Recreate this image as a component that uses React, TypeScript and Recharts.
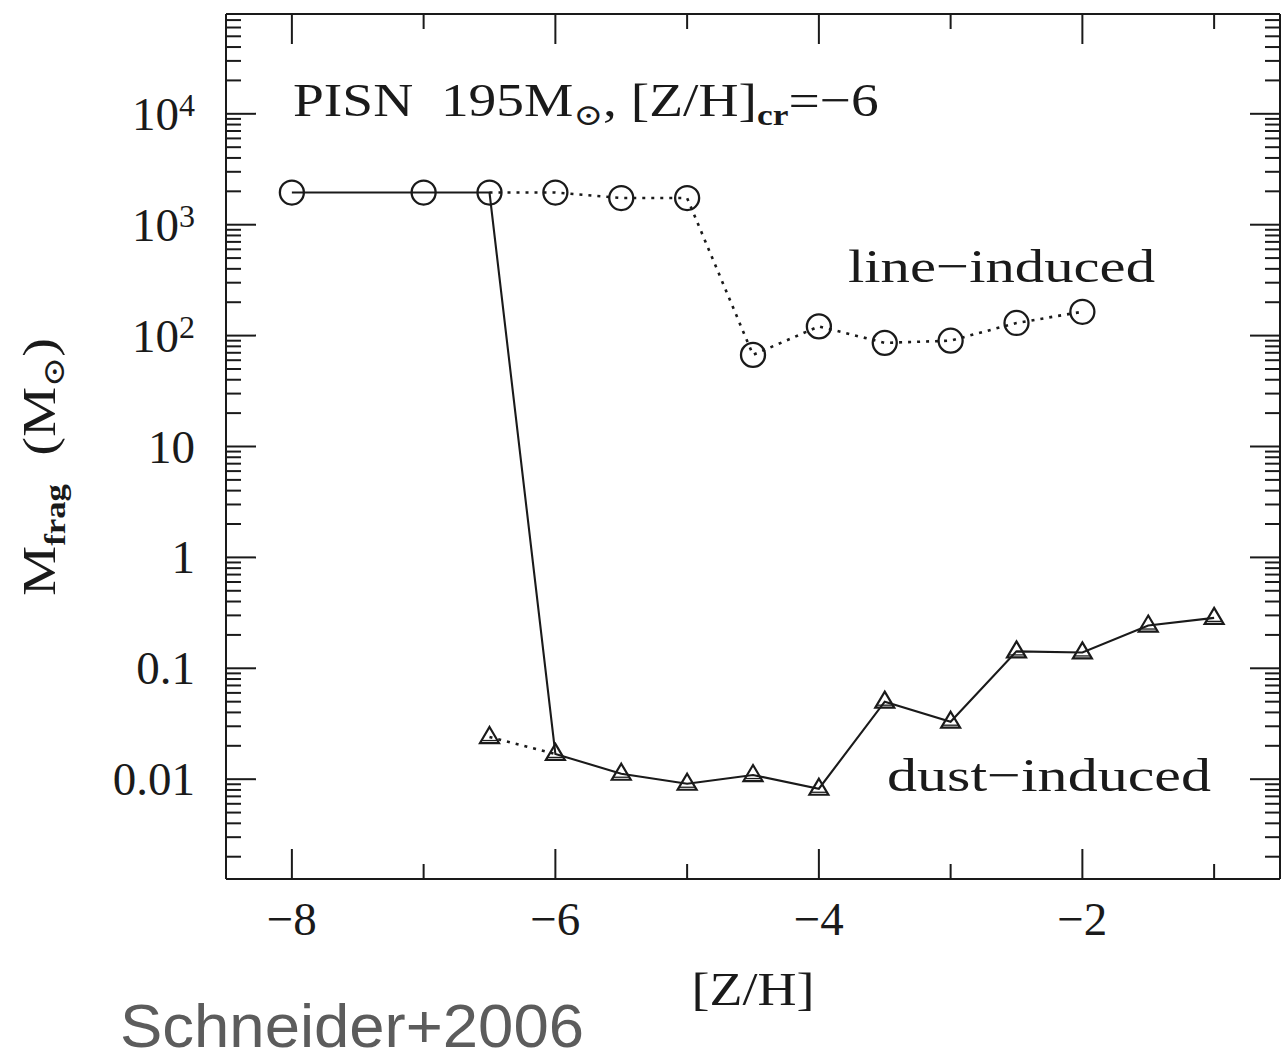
import React from "react";
import { LineChart, Line, XAxis, YAxis } from "recharts";

// [Z/H] sampling and fragment masses (Msun)
const zLine = [-8, -7, -6.5, -6, -5.5, -5, -4.5, -4, -3.5, -3, -2.5, -2];
const mLine = [1950, 1950, 1950, 1950, 1740, 1740, 67, 121, 86, 90, 130, 164];

const zDust = [-6.5, -6, -5.5, -5, -4.5, -4, -3.5, -3, -2.5, -2, -1.5, -1];
const mDust = [0.024, 0.0169, 0.0112, 0.0091, 0.0109, 0.0082, 0.05, 0.033, 0.142, 0.139, 0.243, 0.285];

// critical metallicity where the cooling switches over
const Z_CR = -6.5;

const zTicks = [-8, -7, -6, -5, -4, -3, -2, -1];
const zMajor = [-8, -6, -4, -2];
const zLabels = ["−8", "−6", "−4", "−2"];

const mMajor = [0.01, 0.1, 1, 10, 100, 1000, 10000];
const mLabels: [string, string][] = [
  ["0.01", ""],
  ["0.1", ""],
  ["1", ""],
  ["10", ""],
  ["10", "2"],
  ["10", "3"],
  ["10", "4"],
];

const M_MIN = Math.pow(10, -2.9);
const M_MAX = Math.pow(10, 4.9);

// minor ticks 2..9 x 10^k inside the domain
const mMinor: number[] = [];
for (let k = -3; k <= 4; k++) {
  for (let d = 2; d <= 9; d++) {
    const v = d * Math.pow(10, k);
    if (v > M_MIN && v < M_MAX) mMinor.push(Number(v.toPrecision(3)));
  }
}
const mTicks = [...mMajor, ...mMinor].sort((a, b) => a - b);

const lineRows = zLine.map((z, i) => ({ z, m: mLine[i] }));
const dustRows = zDust.map((z, i) => ({ z, m: mDust[i] }));

// solid track: line cooling below Z_cr, then dust cooling above it
const solidRows = [
  ...lineRows.filter((r) => r.z <= Z_CR),
  ...dustRows.filter((r) => r.z > Z_CR),
];
const lineDotted = lineRows.filter((r) => r.z >= Z_CR);
const dustDotted = dustRows.filter((r) => r.z <= Z_CR + 0.5);

const INK = "#1a1a1a";
const SERIF = "'Liberation Serif', 'DejaVu Serif', serif";
const MAJOR_LEN = 30;
const MINOR_LEN = 15;

const isMajorM = (v: number) => mMajor.some((m) => Math.abs(m - v) / m < 1e-6);

const BottomTick = (props: any) => {
  const { x, y, payload } = props;
  const i = zMajor.indexOf(payload.value);
  const len = i >= 0 ? MAJOR_LEN : MINOR_LEN;
  return (
    <g>
      <line x1={x} y1={y} x2={x} y2={y - len} stroke={INK} strokeWidth={2} />
      {i >= 0 && (
        <text x={x} y={y + 56} textAnchor="middle" fontFamily={SERIF} fontSize={47} fill={INK}>
          {zLabels[i]}
        </text>
      )}
    </g>
  );
};

const TopTick = (props: any) => {
  const { x, y, payload } = props;
  const len = zMajor.includes(payload.value) ? MAJOR_LEN : MINOR_LEN;
  return <line x1={x} y1={y} x2={x} y2={y + len} stroke={INK} strokeWidth={2} />;
};

const LeftTick = (props: any) => {
  const { x, y, payload } = props;
  const i = mMajor.findIndex((m) => Math.abs(m - payload.value) / m < 1e-6);
  const len = i >= 0 ? MAJOR_LEN : MINOR_LEN;
  return (
    <g>
      <line x1={x} y1={y} x2={x + len} y2={y} stroke={INK} strokeWidth={2} />
      {i >= 0 && (
        <text x={x - 31} y={y + 16} textAnchor="end" fontFamily={SERIF} fontSize={47} fill={INK}>
          <tspan>{mLabels[i][0]}</tspan>
          {mLabels[i][1] && (
            <tspan dy={-14} fontSize={32}>
              {mLabels[i][1]}
            </tspan>
          )}
        </text>
      )}
    </g>
  );
};

const RightTick = (props: any) => {
  const { x, y, payload } = props;
  const len = isMajorM(payload.value) ? MAJOR_LEN : MINOR_LEN;
  return <line x1={x} y1={y} x2={x - len} y2={y} stroke={INK} strokeWidth={2} />;
};

const OpenCircle = (props: any) => {
  const { cx, cy, index } = props;
  return <circle key={`c${index}`} cx={cx} cy={cy} r={12} fill="none" stroke={INK} strokeWidth={2.3} />;
};

const OpenTriangle = (props: any) => {
  const { cx, cy, index } = props;
  const d = `M${cx} ${cy - 10} L${cx + 9.5} ${cy + 6} L${cx - 9.5} ${cy + 6} Z`;
  return (
    <g key={`t${index}`}>
      <path d={d} fill="none" stroke={INK} strokeWidth={2.2} />
      <line x1={cx - 7.5} y1={cy + 3.5} x2={cx + 7.5} y2={cy + 3.5} stroke={INK} strokeWidth={1.3} />
    </g>
  );
};

const axisLine = { stroke: INK, strokeWidth: 2 };

export default function App() {
  return (
    <div style={{ position: "absolute", left: 0, top: 0, width: 1281, height: 1059, background: "#fff" }}>
      <LineChart width={1281} height={1059} margin={{ top: 13, right: 0, bottom: 50, left: 0 }}>
        <XAxis
          xAxisId="b"
          type="number"
          dataKey="z"
          domain={[-8.5, -0.5]}
          allowDataOverflow
          ticks={zTicks}
          interval={0}
          tickSize={0}
          tickMargin={0}
          tick={BottomTick}
          axisLine={axisLine}
          height={130}
        />
        <XAxis
          xAxisId="t"
          orientation="top"
          type="number"
          dataKey="z"
          domain={[-8.5, -0.5]}
          allowDataOverflow
          ticks={zTicks}
          interval={0}
          tickSize={0}
          tickMargin={0}
          tick={TopTick}
          axisLine={axisLine}
          height={1}
        />
        <YAxis
          yAxisId="l"
          type="number"
          scale="log"
          domain={[M_MIN, M_MAX]}
          allowDataOverflow
          ticks={mTicks}
          interval={0}
          tickSize={0}
          tickMargin={0}
          tick={LeftTick}
          axisLine={axisLine}
          width={226}
        />
        <YAxis
          yAxisId="r"
          orientation="right"
          type="number"
          scale="log"
          domain={[M_MIN, M_MAX]}
          allowDataOverflow
          ticks={mTicks}
          interval={0}
          tickSize={0}
          tickMargin={0}
          tick={RightTick}
          axisLine={axisLine}
          width={1}
        />

        <Line
          xAxisId="b"
          yAxisId="l"
          data={lineDotted}
          dataKey="m"
          stroke={INK}
          strokeWidth={2.6}
          strokeDasharray="3 6"
          dot={false}
          isAnimationActive={false}
        />
        <Line
          xAxisId="b"
          yAxisId="l"
          data={dustDotted}
          dataKey="m"
          stroke={INK}
          strokeWidth={2.6}
          strokeDasharray="3 6"
          dot={false}
          isAnimationActive={false}
        />
        <Line
          xAxisId="b"
          yAxisId="l"
          data={solidRows}
          dataKey="m"
          stroke={INK}
          strokeWidth={2.1}
          dot={false}
          isAnimationActive={false}
        />
        <Line
          xAxisId="b"
          yAxisId="l"
          data={lineRows}
          dataKey="m"
          stroke="none"
          dot={OpenCircle}
          activeDot={false}
          isAnimationActive={false}
        />
        <Line
          xAxisId="b"
          yAxisId="l"
          data={dustRows}
          dataKey="m"
          stroke="none"
          dot={OpenTriangle}
          activeDot={false}
          isAnimationActive={false}
        />
      </LineChart>

      <svg
        width={1281}
        height={1059}
        style={{ position: "absolute", left: 0, top: 0, pointerEvents: "none" }}
      >
        <g fontFamily={SERIF} fill={INK} fontSize={47}>
          <g transform="translate(293,116) scale(1.18,1)">
            <text x={0} y={0} xmlSpace="preserve">
              <tspan>PISN  195M</tspan>
              <tspan dy={9} fontSize={30}>⊙</tspan>
              <tspan dy={-9}>, [Z/H]</tspan>
              <tspan dy={9} fontSize={30} fontWeight="bold">cr</tspan>
              <tspan dy={-9}>=−6</tspan>
            </text>
          </g>
          <text x={848} y={282} textLength={307} lengthAdjust="spacingAndGlyphs">
            line−induced
          </text>
          <text x={887} y={791} textLength={324} lengthAdjust="spacingAndGlyphs">
            dust−induced
          </text>
          <g transform="translate(753,1005) scale(1.15,1)">
            <text x={0} y={0} textAnchor="middle">
              [Z/H]
            </text>
          </g>
          <g transform="translate(55,467) rotate(-90) scale(1.2,1)">
            <text x={0} y={0} textAnchor="middle" xmlSpace="preserve">
              <tspan>M</tspan>
              <tspan dy={10} fontSize={29} fontWeight="bold">frag</tspan>
              <tspan dy={-10}>  (M</tspan>
              <tspan dy={9} fontSize={30}>⊙</tspan>
              <tspan dy={-9}>)</tspan>
            </text>
          </g>
        </g>
        <text
          x={120}
          y={1047}
          fontFamily="'Liberation Sans', Arial, sans-serif"
          fontSize={62}
          fill="#5c5c5c"
          textLength={464}
          lengthAdjust="spacingAndGlyphs"
        >
          Schneider+2006
        </text>
      </svg>
    </div>
  );
}
